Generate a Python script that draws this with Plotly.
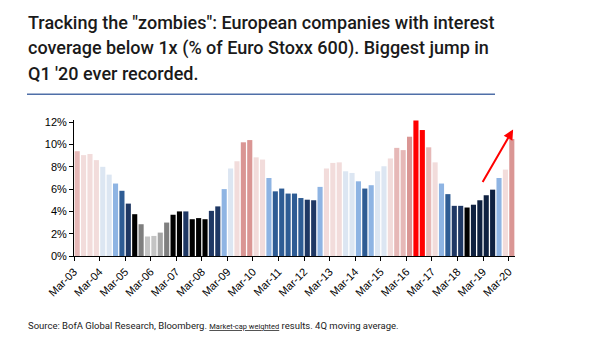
import plotly.graph_objects as go

# ---------------- data ----------------
years = list(range(3, 20))
months = ["Mar", "Jun", "Sep", "Dec"]
quarters = [f"{m}-{y:02d}" for y in years for m in months] + ["Mar-20"]

zombie_share = [
    9.4, 9.05, 9.15, 8.6, 8.0, 7.3, 6.5, 5.85, 4.7, 3.75,
    2.85, 1.75, 1.8, 2.1, 3.0, 3.7, 4.0, 4.0, 3.3, 3.4,
    3.3, 4.05, 4.45, 6.0, 7.85, 8.5, 10.2, 10.4, 8.85, 8.65,
    7.0, 5.8, 6.05, 5.6, 5.6, 5.2, 5.05, 5.0, 6.2, 7.85,
    8.35, 8.4, 7.6, 7.45, 6.7, 6.05, 6.35, 7.6, 8.05, 8.75,
    9.7, 9.5, 10.7, 12.15, 11.3, 9.75, 8.4, 6.5, 5.55, 4.5,
    4.5, 4.35, 4.6, 5.0, 5.45, 5.95, 7.0, 7.75, 10.5,
]

# shade keys per bar (heat-map style colouring of the original)
shade_keys = [
    "MP", "LP", "LP", "LP", "LB", "LB", "MB", "DB", "NV", "K",
    "G", "LG", "LG", "G2", "G", "K", "K", "NV", "K", "K",
    "K", "NV", "NV", "MB", "LB", "LP", "MR", "MR", "LP", "LP",
    "MB", "DB", "DB", "DB", "DB", "DB", "NV", "NV", "MB", "LP",
    "LP", "LP", "LB", "LB", "MB", "DB", "MB", "LB", "LB", "LP",
    "MP", "MP", "MR", "R", "R", "MP", "LP", "MB", "DB", "NV",
    "NV", "K", "DN", "DN", "DN", "DN", "MB", "LP", "MR",
]

palette = {
    "LP": "#f2dcdb", "MP": "#e6b8b7", "MR": "#da9694", "R": "#ff0000",
    "LB": "#dce6f2", "MB": "#8eb4e3", "DB": "#2e5c94", "NV": "#1f3864",
    "DN": "#0f2140", "K": "#000000", "G": "#7f7f7f", "G2": "#a6a6a6",
    "LG": "#c4c4c4",
}

title_lines = [
    'Tracking the "zombies": European companies with interest',
    'coverage below 1x (% of Euro Stoxx 600). Biggest jump in',
    "Q1 '20 ever recorded.",
]
source_text = ('Source: BofA Global Research, Bloomberg. '
               '<span style="font-size:7.5px;text-decoration:underline">Market-cap weighted</span>'
               ' results. 4Q moving average.')

# ---------------- figure ----------------
xs = list(range(len(zombie_share)))
colors = [palette[k] for k in shade_keys]

fig = go.Figure(go.Bar(
    x=xs, y=zombie_share,
    marker=dict(color=colors, line=dict(width=0)),
    hoverinfo="skip",
))

march_idx = [i for i, q in enumerate(quarters) if q.startswith("Mar")]

W, H = 605, 341
left, right_px = 74, 515
top_px, bottom_px = 119.5, 256.5
plot_w = right_px - left
plot_h = bottom_px - top_px


def px_x(p):
    return (p - left) / plot_w


def px_y(p):
    return (bottom_px - p) / plot_h


fig.update_layout(
    width=W, height=H,
    margin=dict(l=left, r=W - right_px, t=top_px, b=H - bottom_px, pad=0),
    paper_bgcolor="white", plot_bgcolor="white",
    bargap=0.2,
    showlegend=False,
    font=dict(family="Liberation Sans, Arial, sans-serif", size=11, color="#000000"),
)

fig.update_xaxes(
    range=[-0.5, len(xs) - 0.5],
    tickmode="array",
    tickvals=[i - 0.5 for i in march_idx],
    ticktext=[quarters[i] for i in march_idx],
    tickangle=-45,
    showline=True, linecolor="#000000", linewidth=1,
    ticks="outside", ticklen=4, tickcolor="#000000",
    showgrid=False, zeroline=False,
    tickfont=dict(size=11, family="Liberation Sans, Arial, sans-serif"),
)
fig.update_yaxes(
    range=[0, 12.2],
    tickmode="array",
    tickvals=[0, 2, 4, 6, 8, 10, 12],
    ticktext=[f"{v}%" for v in [0, 2, 4, 6, 8, 10, 12]],
    showline=True, linecolor="#000000", linewidth=1,
    ticks="outside", ticklen=4, tickcolor="#000000",
    showgrid=False, zeroline=False,
    tickfont=dict(size=11, family="Liberation Sans, Arial, sans-serif"),
)

# title, one annotation per line
for k, line in enumerate(title_lines):
    fig.add_annotation(
        text=line, xref="paper", yref="paper",
        x=px_x(26), xanchor="left",
        y=px_y(21 + 26 * k), yanchor="middle",
        showarrow=False,
        font=dict(family="Roboto, sans-serif", size=18, color="#1a1a1a", weight=500),
    )

# underline rule below the title
fig.add_shape(
    type="line", xref="paper", yref="paper",
    x0=px_x(27), x1=px_x(495),
    y0=px_y(93.5), y1=px_y(93.5),
    line=dict(color="#4f6fa8", width=1.5),
)

# red arrow marking the jump
fig.add_annotation(
    x=68.2, y=11.35, xref="x", yref="y",
    ax=63.3, ay=6.5, axref="x", ayref="y",
    showarrow=True, arrowhead=2, arrowsize=1, arrowwidth=2,
    arrowcolor="#ff0000", text="",
)

# source note
fig.add_annotation(
    text=source_text,
    xref="paper", yref="paper",
    x=px_x(26), xanchor="left",
    y=px_y(327), yanchor="middle",
    showarrow=False,
    font=dict(family="Roboto, sans-serif", size=9.5, color="#1a1a1a"),
)

fig.write_html("out.html")
